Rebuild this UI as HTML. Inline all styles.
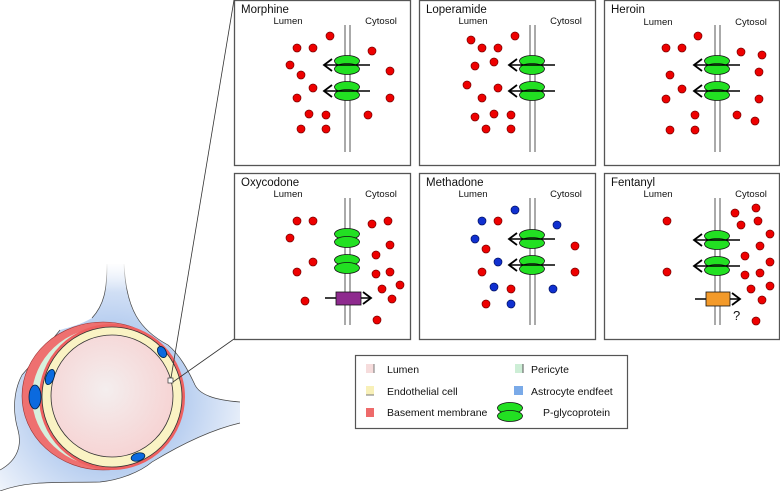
<!DOCTYPE html>
<html><head><meta charset="utf-8"><style>html,body{margin:0;padding:0;background:#fff}svg{display:block}text{font-family:"Liberation Sans",sans-serif}</style></head><body>
<svg width="780" height="491" viewBox="0 0 780 491" xmlns="http://www.w3.org/2000/svg">
<defs>
<g id="pg"><ellipse cx="0" cy="-4" rx="12.5" ry="5.5" fill="#22e022" stroke="#111" stroke-width="0.8"/><ellipse cx="0" cy="4" rx="12.5" ry="5.5" fill="#22e022" stroke="#111" stroke-width="0.8"/></g>
<g id="pga"><use href="#pg"/><line x1="-22" y1="0" x2="23" y2="0" stroke="#000" stroke-width="1.6"/><polyline points="-15,-6 -23,0 -15,6" fill="none" stroke="#000" stroke-width="1.8"/></g>
<radialGradient id="lg" cx="0.45" cy="0.45" r="0.6"><stop offset="0" stop-color="#f4eeee"/><stop offset="1" stop-color="#f6d2d2"/></radialGradient>
<radialGradient id="ag" cx="110" cy="397" r="150" gradientUnits="userSpaceOnUse"><stop offset="0.5" stop-color="#b9cff0"/><stop offset="1" stop-color="#f4f7fc"/></radialGradient>
<linearGradient id="fade" x1="0" y1="0" x2="0" y2="1"><stop offset="0" stop-color="#fff" stop-opacity="1"/><stop offset="1" stop-color="#fff" stop-opacity="0"/></linearGradient>
</defs>
<g fill="#fff" stroke="#555" stroke-width="1.3">
<rect x="234.5" y="0.5" width="176" height="165"/>
<rect x="419.5" y="0.5" width="176" height="165"/>
<rect x="604.5" y="0.5" width="175" height="165"/>
<rect x="234.5" y="173.5" width="176" height="166"/>
<rect x="419.5" y="173.5" width="176" height="166"/>
<rect x="604.5" y="173.5" width="175" height="166"/>
</g>
<g font-size="11.5" fill="#111">
<text x="241" y="13">Morphine</text><text x="426" y="13">Loperamide</text><text x="611" y="13">Heroin</text>
<text x="241" y="186">Oxycodone</text><text x="426" y="186">Methadone</text><text x="611" y="186">Fentanyl</text>
</g>
<g font-size="9.5" fill="#111" text-anchor="middle">
<text x="288" y="24">Lumen</text><text x="381" y="24">Cytosol</text>
<text x="473" y="24">Lumen</text><text x="566" y="24">Cytosol</text>
<text x="658" y="25">Lumen</text><text x="751" y="25">Cytosol</text>
<text x="288" y="197">Lumen</text><text x="381" y="197">Cytosol</text>
<text x="473" y="197">Lumen</text><text x="566" y="197">Cytosol</text>
<text x="658" y="197">Lumen</text><text x="751" y="197">Cytosol</text>
</g>
<g stroke="#555" stroke-width="1">
<line x1="345" y1="25" x2="345" y2="152"/><line x1="350" y1="25" x2="350" y2="152"/>
<line x1="530" y1="25" x2="530" y2="152"/><line x1="535" y1="25" x2="535" y2="152"/>
<line x1="715" y1="25" x2="715" y2="152"/><line x1="720" y1="25" x2="720" y2="152"/>
<line x1="345" y1="198" x2="345" y2="325"/><line x1="350" y1="198" x2="350" y2="325"/>
<line x1="530" y1="198" x2="530" y2="325"/><line x1="535" y1="198" x2="535" y2="325"/>
<line x1="715" y1="198" x2="715" y2="325"/><line x1="720" y1="198" x2="720" y2="325"/>
</g>
<use href="#pga" x="347" y="65"/><use href="#pga" x="347" y="91"/>
<use href="#pga" x="532" y="65"/><use href="#pga" x="532" y="91"/>
<use href="#pga" x="717" y="65"/><use href="#pga" x="717" y="91"/>
<use href="#pg" x="347" y="238"/><use href="#pg" x="347" y="264"/>
<use href="#pga" x="532" y="239"/><use href="#pga" x="532" y="265"/>
<use href="#pga" x="717" y="240"/><use href="#pga" x="717" y="266"/>
<line x1="325" y1="298" x2="370" y2="298" stroke="#000" stroke-width="1.6"/><polyline points="363,292 371,298 363,304" fill="none" stroke="#000" stroke-width="1.8"/>
<rect x="336" y="292" width="25" height="13" fill="#8e2a8e" stroke="#111" stroke-width="0.8"/>
<line x1="695" y1="299" x2="739" y2="299" stroke="#000" stroke-width="1.6"/><polyline points="732,293 740,299 732,305" fill="none" stroke="#000" stroke-width="1.8"/>
<rect x="706" y="292" width="24" height="14" fill="#f39a2a" stroke="#111" stroke-width="0.8"/>
<text x="733" y="320" font-size="13" fill="#111">?</text>
<g fill="#e00" stroke="#700" stroke-width="0.7">
<circle cx="330" cy="36" r="4"/><circle cx="297" cy="48" r="4"/><circle cx="313" cy="48" r="4"/><circle cx="290" cy="65" r="4"/><circle cx="301" cy="75" r="4"/><circle cx="313" cy="88" r="4"/><circle cx="297" cy="98" r="4"/><circle cx="309" cy="114" r="4"/><circle cx="326" cy="115" r="4"/><circle cx="301" cy="129" r="4"/><circle cx="326" cy="129" r="4"/><circle cx="372" cy="51" r="4"/><circle cx="390" cy="71" r="4"/><circle cx="390" cy="98" r="4"/><circle cx="368" cy="115" r="4"/>
<circle cx="471" cy="40" r="4"/><circle cx="515" cy="36" r="4"/><circle cx="482" cy="48" r="4"/><circle cx="498" cy="48" r="4"/><circle cx="475" cy="66" r="4"/><circle cx="494" cy="62" r="4"/><circle cx="467" cy="85" r="4"/><circle cx="498" cy="88" r="4"/><circle cx="482" cy="98" r="4"/><circle cx="475" cy="117" r="4"/><circle cx="494" cy="114" r="4"/><circle cx="511" cy="115" r="4"/><circle cx="486" cy="129" r="4"/><circle cx="511" cy="129" r="4"/>
<circle cx="698" cy="36" r="4"/><circle cx="666" cy="48" r="4"/><circle cx="682" cy="48" r="4"/><circle cx="741" cy="52" r="4"/><circle cx="762" cy="55" r="4"/><circle cx="670" cy="75" r="4"/><circle cx="759" cy="72" r="4"/><circle cx="682" cy="89" r="4"/><circle cx="666" cy="99" r="4"/><circle cx="759" cy="99" r="4"/><circle cx="695" cy="115" r="4"/><circle cx="737" cy="115" r="4"/><circle cx="755" cy="121" r="4"/><circle cx="670" cy="130" r="4"/><circle cx="695" cy="130" r="4"/>
<circle cx="297" cy="221" r="4"/><circle cx="313" cy="221" r="4"/><circle cx="290" cy="238" r="4"/><circle cx="313" cy="262" r="4"/><circle cx="297" cy="272" r="4"/><circle cx="305" cy="301" r="4"/><circle cx="372" cy="224" r="4"/><circle cx="388" cy="221" r="4"/><circle cx="390" cy="245" r="4"/><circle cx="376" cy="255" r="4"/><circle cx="376" cy="274" r="4"/><circle cx="390" cy="272" r="4"/><circle cx="382" cy="289" r="4"/><circle cx="400" cy="285" r="4"/><circle cx="392" cy="299" r="4"/><circle cx="377" cy="320" r="4"/>
<circle cx="498" cy="221" r="4"/><circle cx="486" cy="249" r="4"/><circle cx="482" cy="272" r="4"/><circle cx="511" cy="289" r="4"/><circle cx="486" cy="304" r="4"/><circle cx="575" cy="246" r="4"/><circle cx="575" cy="272" r="4"/>
<circle cx="667" cy="221" r="4"/><circle cx="667" cy="272" r="4"/><circle cx="735" cy="213" r="4"/><circle cx="756" cy="208" r="4"/><circle cx="741" cy="225" r="4"/><circle cx="758" cy="221" r="4"/><circle cx="770" cy="234" r="4"/><circle cx="760" cy="246" r="4"/><circle cx="745" cy="256" r="4"/><circle cx="770" cy="262" r="4"/><circle cx="745" cy="275" r="4"/><circle cx="760" cy="273" r="4"/><circle cx="751" cy="289" r="4"/><circle cx="770" cy="286" r="4"/><circle cx="762" cy="300" r="4"/><circle cx="756" cy="321" r="4"/>
</g>
<g fill="#1030d0" stroke="#001060" stroke-width="0.7">
<circle cx="515" cy="210" r="4"/><circle cx="482" cy="221" r="4"/><circle cx="475" cy="239" r="4"/><circle cx="498" cy="262" r="4"/><circle cx="494" cy="287" r="4"/><circle cx="511" cy="304" r="4"/><circle cx="557" cy="225" r="4"/><circle cx="553" cy="289" r="4"/>
</g>
<!-- vessel -->
<path d="M107,264 C107,290 104,305 92,318 C80,325 70,327 60,330 C48,345 35,360 22,375 C14,390 12,410 18,430 C22,445 18,460 0,470 L0,491 C30,480 60,483 100,482 C120,480 140,472 152,462 C180,445 210,430 240,423 L240,402 C215,400 200,395 195,385 C188,370 180,355 168,345 C140,330 126,310 124,264 Z" fill="url(#ag)"/>
<path d="M107,264 C107,290 104,305 92,318 M60,330 C48,345 35,360 22,375 C14,390 12,410 18,430 C22,445 18,460 0,470 M0,491 C30,480 60,483 100,482 C120,480 140,472 152,462 C180,445 210,430 240,423 M240,402 C215,400 200,395 195,385 C188,370 180,355 168,345 C140,330 126,310 124,264" fill="none" stroke="#444" stroke-width="0.7"/>
<rect x="100" y="262" width="30" height="30" fill="url(#fade)"/>
<ellipse cx="103" cy="396" rx="81" ry="74" fill="#ee7070" stroke="#933" stroke-width="0.6"/>
<ellipse cx="107" cy="397" rx="75" ry="70" fill="#d7f0dd"/>
<circle cx="112" cy="397" r="71.5" fill="none" stroke="#ee6060" stroke-width="3"/>
<circle cx="112" cy="397" r="70" fill="#faf3c4" stroke="#333" stroke-width="0.8"/>
<circle cx="112" cy="396" r="61" fill="url(#lg)" stroke="#333" stroke-width="0.8"/>
<ellipse cx="35" cy="397" rx="6" ry="12" fill="#0b6adf" stroke="#024" stroke-width="0.8"/>
<ellipse cx="50" cy="377" rx="4" ry="8" transform="rotate(20 50 377)" fill="#0b6adf" stroke="#024" stroke-width="0.8"/>
<ellipse cx="162" cy="352" rx="4" ry="6" transform="rotate(-30 162 352)" fill="#0b6adf" stroke="#024" stroke-width="0.8"/>
<ellipse cx="138" cy="457" rx="7" ry="4" transform="rotate(-15 138 457)" fill="#0b6adf" stroke="#024" stroke-width="0.8"/>
<rect x="168" y="378" width="5" height="5" fill="#fff" stroke="#333" stroke-width="0.7"/>
<line x1="171" y1="378" x2="234" y2="0" stroke="#333" stroke-width="0.8"/>
<line x1="173" y1="382" x2="234" y2="339" stroke="#333" stroke-width="0.8"/>
<!-- legend -->
<rect x="355.5" y="355.5" width="272" height="73" fill="#fff" stroke="#555" stroke-width="1.2"/>
<g font-size="10.5" fill="#111">
<rect x="366" y="364" width="8" height="9" fill="#f6dcdc"/><line x1="374" y1="364" x2="374" y2="373" stroke="#777"/><text x="387" y="373">Lumen</text>
<rect x="366" y="386" width="8" height="9" fill="#f8f0b8"/><line x1="366" y1="395" x2="374" y2="395" stroke="#777"/><text x="387" y="395">Endothelial cell</text>
<rect x="366" y="408" width="8" height="9" fill="#ee6a6a"/><text x="387" y="416">Basement membrane</text>
<rect x="515" y="364" width="8" height="9" fill="#cdeed6"/><line x1="523" y1="364" x2="523" y2="373" stroke="#555"/><text x="531" y="373">Pericyte</text>
<rect x="514" y="386" width="9" height="9" fill="#7aaae8"/><text x="531" y="395">Astrocyte endfeet</text>
<use href="#pg" x="510" y="412"/><text x="543" y="416">P-glycoprotein</text>
</g>
</svg>
</body></html>
